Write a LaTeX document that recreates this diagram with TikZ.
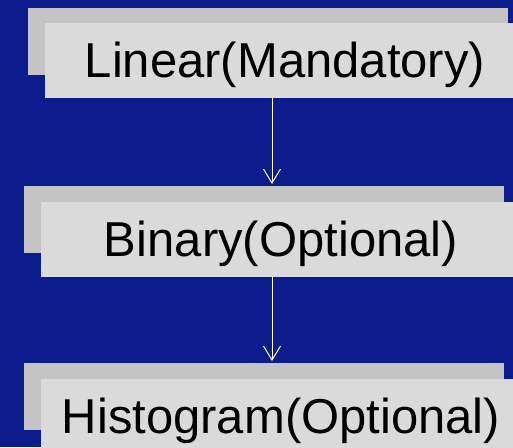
\documentclass[tikz,border=0pt]{standalone}
\usepackage{fontspec}
\setmainfont{Liberation Sans}
\usetikzlibrary{arrows.meta}
\definecolor{bg}{HTML}{0C1C8C}
\definecolor{shade}{HTML}{C4C4C4}
\definecolor{face}{HTML}{DADADA}
\begin{document}
\begin{tikzpicture}[x=1pt,y=-1pt,
 shadowbox/.style={fill=shade, inner sep=0pt, outer sep=0pt, minimum width=480pt, minimum height=67pt, anchor=north west},
 facebox/.style={fill=face, inner sep=0pt, outer sep=0pt, minimum width=480pt, text height=54.5pt, text depth=20.5pt, anchor=north west, font=\fontsize{49}{58}\selectfont, text=black},
 flow/.style={draw=white, line width=1pt, shorten >=2pt, -{Straight Barb[length=14pt,width=17pt]}}]
\useasboundingbox (0,0) rectangle (513,447);
\fill[bg] (0,0) rectangle (513,447);
\clip (0,0) rectangle (513,447);
\node[shadowbox] (s1) at (28,8) {};
\node[facebox] (f1) at (45,23) {Linear(Mandatory)};
\node[shadowbox] (s2) at (24,186) {};
\node[facebox] (f2) at (41,202) {Binary(Optional)};
\node[shadowbox] (s3) at (24,363) {};
\node[facebox] (f3) at (41,379) {Histogram(Optional)};
\coordinate (ax) at (272,0);
\draw[flow] (f1.south -| ax) -- (s2.north -| ax);
\draw[flow] (f2.south -| ax) -- (s3.north -| ax);
\end{tikzpicture}
\end{document}
